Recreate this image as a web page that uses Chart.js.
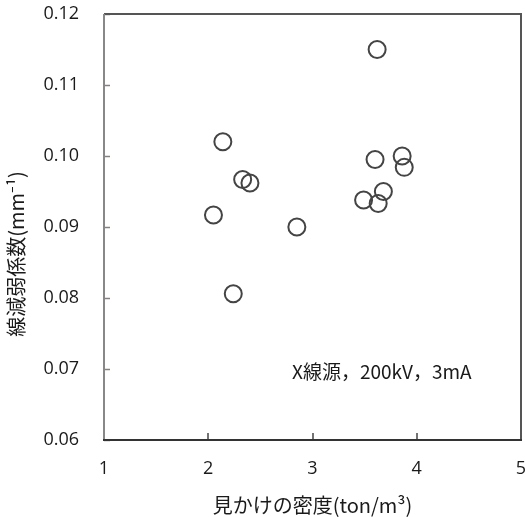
<!DOCTYPE html>
<html>
<head>
<meta charset="utf-8">
<script src="https://cdn.jsdelivr.net/npm/chart.js@4/dist/chart.umd.min.js"></script>
<style>
html,body{margin:0;padding:0;background:#fff;}
#c{display:block;}
</style>
</head>
<body>
<canvas id="c" width="525" height="517"></canvas>
<script>
// Data
const densityX = [3.62, 2.14, 2.33, 2.40, 2.05, 2.85, 2.24, 3.60, 3.86, 3.88, 3.68, 3.49, 3.63];
const attenY   = [0.1150, 0.1020, 0.0967, 0.0962, 0.0917, 0.0900, 0.0806, 0.0995, 0.1000, 0.0984, 0.0950, 0.0938, 0.0933];
const xTicks = [1, 2, 3, 4, 5];
const yTicks = [0.06, 0.07, 0.08, 0.09, 0.10, 0.11, 0.12];
const xTitle = '見かけの密度(ton/m³)';
const yTitle = '線減弱係数(mm⁻¹)';
const note = 'X線源，200kV，3mA';

const FONT = '"Noto Sans CJK JP", "Noto Sans", sans-serif';
const NUMFONT = '"Open Sans", "Noto Sans", sans-serif';
const points = densityX.map((x, i) => ({x: x, y: attenY[i]}));

const framePlugin = {
  id: 'frame',
  afterDraw(chart) {
    const ctx = chart.ctx;
    const a = chart.chartArea;
    const xs = chart.scales.x, ys = chart.scales.y;
    ctx.save();
    // inward ticks
    ctx.lineWidth = 1.5;
    ctx.strokeStyle = '#8a7f7f';
    yTicks.forEach(v => {
      const p = Math.round(ys.getPixelForValue(v)) + 0.5;
      ctx.beginPath(); ctx.moveTo(a.left, p); ctx.lineTo(a.left + 6, p); ctx.stroke();
    });
    ctx.strokeStyle = '#444';
    xTicks.forEach(v => {
      const p = Math.round(xs.getPixelForValue(v));
      ctx.beginPath(); ctx.moveTo(p, a.bottom); ctx.lineTo(p, a.bottom - 7); ctx.stroke();
    });
    // frame
    ctx.lineWidth = 2;
    ctx.strokeStyle = '#555';
    ctx.beginPath(); ctx.moveTo(a.left, a.top); ctx.lineTo(a.right, a.top); ctx.lineTo(a.right, a.bottom); ctx.stroke();
    ctx.strokeStyle = '#888';
    ctx.beginPath(); ctx.moveTo(a.left, a.top); ctx.lineTo(a.left, a.bottom); ctx.stroke();
    ctx.strokeStyle = '#333';
    ctx.beginPath(); ctx.moveTo(a.left - 1, a.bottom); ctx.lineTo(a.right + 1, a.bottom); ctx.stroke();
    // y title (rotated)
    ctx.fillStyle = '#1a1a1a';
    ctx.font = '20px ' + FONT;
    ctx.textAlign = 'center';
    ctx.textBaseline = 'middle';
    ctx.translate(16, 254);
    ctx.rotate(-Math.PI / 2);
    ctx.fillText(yTitle, 0, 0);
    ctx.restore();
    // annotation
    ctx.save();
    ctx.fillStyle = '#1a1a1a';
    ctx.font = '19px ' + FONT;
    ctx.textAlign = 'left';
    ctx.textBaseline = 'middle';
    ctx.fillText(note, 292, 372);
    ctx.restore();
  }
};

new Chart(document.getElementById('c'), {
  type: 'scatter',
  data: {
    datasets: [{
      data: points,
      pointStyle: 'circle',
      pointRadius: 8.5,
      pointHoverRadius: 8.5,
      pointBorderWidth: 2,
      pointBorderColor: '#444',
      pointBackgroundColor: 'rgba(0,0,0,0)',
      showLine: false
    }]
  },
  options: {
    responsive: false,
    animation: false,
    devicePixelRatio: 1,
    layout: {autoPadding: false, padding: {left: 0, top: 14, right: 4, bottom: 0}},
    plugins: {legend: {display: false}, tooltip: {enabled: false}},
    scales: {
      x: {
        type: 'linear', min: 1, max: 5,
        afterBuildTicks(s) { s.ticks = xTicks.map(v => ({value: v})); },
        afterFit(s) { s.height = 77; s.paddingLeft = 0; s.paddingRight = 0; },
        grid: {display: false, drawTicks: false},
        border: {display: false},
        ticks: {padding: 18, color: '#1a1a1a', font: {family: NUMFONT, size: 18}, maxRotation: 0, callback: v => String(v)},
        title: {display: true, text: xTitle, color: '#1a1a1a', font: {family: FONT, size: 20}, padding: {top: 2, bottom: 0}}
      },
      y: {
        type: 'linear', min: 0.06, max: 0.12,
        afterBuildTicks(s) { s.ticks = yTicks.map(v => ({value: v})); },
        afterFit(s) { s.width = 104; s.paddingTop = 0; s.paddingBottom = 0; },
        grid: {display: false, drawTicks: false},
        border: {display: false},
        ticks: {padding: 25, color: '#1a1a1a', font: {family: NUMFONT, size: 18}, callback: v => Number(v).toFixed(2)}
      }
    }
  },
  plugins: [framePlugin]
});
</script>
</body>
</html>
